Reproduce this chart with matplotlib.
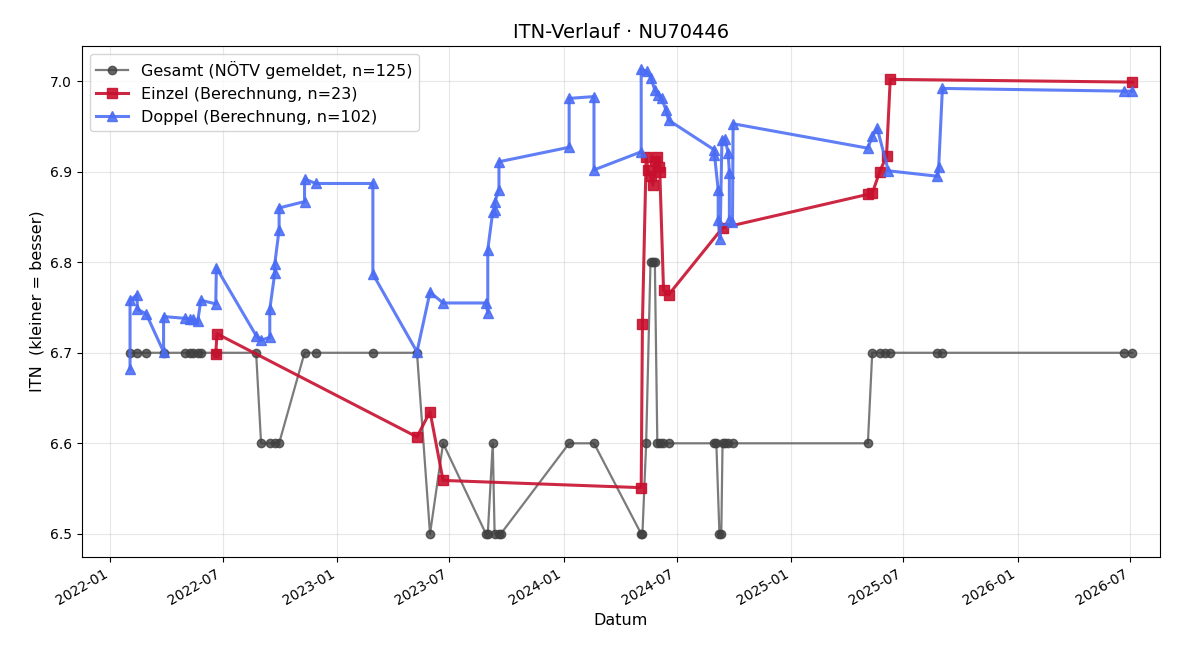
import pandas as pd
import matplotlib
matplotlib.use("Agg")
import matplotlib.pyplot as plt
import matplotlib.dates as mdates

# Gesamt (NÖTV gemeldet)
gesamt_dates = ["2022-02-02", "2022-02-14", "2022-02-28", "2022-03-28", "2022-05-02", "2022-05-09",
                "2022-05-15", "2022-05-22", "2022-05-27", "2022-06-20", "2022-08-24", "2022-09-01",
                "2022-09-15", "2022-09-23", "2022-09-30", "2022-11-10", "2022-11-28", "2023-02-28",
                "2023-05-10", "2023-05-31", "2023-06-21", "2023-08-29", "2023-09-01", "2023-09-09",
                "2023-09-12", "2023-09-19", "2023-09-22", "2024-01-10", "2024-02-19", "2024-05-05",
                "2024-05-07", "2024-05-13", "2024-05-20", "2024-05-24", "2024-05-27", "2024-05-31",
                "2024-06-04", "2024-06-09", "2024-06-18", "2024-08-31", "2024-09-03", "2024-09-08",
                "2024-09-11", "2024-09-13", "2024-09-17", "2024-09-21", "2024-09-30", "2025-05-05",
                "2025-05-12", "2025-05-24", "2025-06-02", "2025-06-10", "2025-08-25", "2025-09-02",
                "2026-06-21", "2026-07-05"]
gesamt_itn = [6.7, 6.7, 6.7, 6.7, 6.7, 6.7, 6.7, 6.7, 6.7, 6.7, 6.7, 6.6,
              6.6, 6.6, 6.6, 6.7, 6.7, 6.7, 6.7, 6.5, 6.6, 6.5, 6.5, 6.6,
              6.5, 6.5, 6.5, 6.6, 6.6, 6.5, 6.5, 6.6, 6.8, 6.8, 6.8, 6.6,
              6.6, 6.6, 6.6, 6.6, 6.6, 6.5, 6.5, 6.6, 6.6, 6.6, 6.6, 6.6,
              6.7, 6.7, 6.7, 6.7, 6.7, 6.7, 6.7, 6.7]

# Einzel (Berechnung)
einzel_dates = ["2022-06-20", "2022-06-22", "2023-05-10", "2023-05-31", "2023-06-21", "2024-05-05",
                "2024-05-07", "2024-05-13", "2024-05-16", "2024-05-20", "2024-05-24", "2024-05-27",
                "2024-05-30", "2024-06-02", "2024-06-04", "2024-06-10", "2024-06-18", "2024-09-13",
                "2025-05-05", "2025-05-12", "2025-05-24", "2025-06-04", "2025-06-10", "2026-07-05"]
einzel_itn = [6.699, 6.721, 6.607, 6.635, 6.559, 6.551,
              6.732, 6.916, 6.902, 6.895, 6.885, 6.912,
              6.916, 6.905, 6.900, 6.769, 6.764, 6.838,
              6.875, 6.876, 6.900, 6.917, 7.002, 6.999]

# Doppel (Berechnung)
doppel_dates = ["2022-02-02", "2022-02-02", "2022-02-13", "2022-02-14", "2022-02-28", "2022-03-28",
                "2022-03-28", "2022-05-02", "2022-05-09", "2022-05-15", "2022-05-22", "2022-05-27",
                "2022-06-20", "2022-06-21", "2022-08-24", "2022-09-01", "2022-09-15", "2022-09-15",
                "2022-09-23", "2022-09-23", "2022-09-30", "2022-09-30", "2022-11-10", "2022-11-10",
                "2022-11-28", "2023-02-28", "2023-02-28", "2023-05-10", "2023-05-31", "2023-06-21",
                "2023-08-29", "2023-09-01", "2023-09-01", "2023-09-09", "2023-09-12", "2023-09-12",
                "2023-09-19", "2023-09-19", "2024-01-10", "2024-01-10", "2024-02-19", "2024-02-19",
                "2024-05-05", "2024-05-05", "2024-05-14", "2024-05-21", "2024-05-27", "2024-06-01",
                "2024-06-07", "2024-06-14", "2024-06-18", "2024-08-31", "2024-08-31", "2024-09-06",
                "2024-09-06", "2024-09-09", "2024-09-12", "2024-09-17", "2024-09-22", "2024-09-24",
                "2024-09-24", "2024-09-29", "2024-09-30", "2025-05-05", "2025-05-12", "2025-05-20",
                "2025-06-07", "2025-08-25", "2025-08-27", "2025-09-02", "2026-06-21", "2026-07-05"]
doppel_itn = [6.682, 6.758, 6.764, 6.748, 6.743, 6.701,
              6.740, 6.738, 6.737, 6.737, 6.735, 6.758,
              6.754, 6.794, 6.719, 6.714, 6.717, 6.748,
              6.788, 6.798, 6.836, 6.860, 6.867, 6.892,
              6.887, 6.887, 6.787, 6.701, 6.767, 6.755,
              6.755, 6.744, 6.814, 6.856, 6.858, 6.866,
              6.880, 6.911, 6.927, 6.981, 6.983, 6.902,
              6.922, 7.013, 7.011, 7.003, 6.990, 6.985,
              6.981, 6.968, 6.957, 6.924, 6.919, 6.880,
              6.847, 6.826, 6.935, 6.936, 6.921, 6.899,
              6.847, 6.844, 6.953, 6.926, 6.939, 6.948,
              6.901, 6.895, 6.905, 6.992, 6.989, 6.989]

fig, ax = plt.subplots(figsize=(12, 6.6), dpi=100)

ax.plot(pd.to_datetime(gesamt_dates), gesamt_itn, color="#5a5a5a", alpha=0.8, lw=1.6,
        marker="o", ms=6, mfc="#404040", mec="#404040",
        label="Gesamt (NÖTV gemeldet, n=125)")
ax.plot(pd.to_datetime(einzel_dates), einzel_itn, color="#c8102e", alpha=0.9, lw=2.2,
        marker="s", ms=7, label="Einzel (Berechnung, n=23)")
ax.plot(pd.to_datetime(doppel_dates), doppel_itn, color="#4a6cf4", alpha=0.88, lw=2.2,
        marker="^", ms=7, label="Doppel (Berechnung, n=102)")

ax.set_xlim(pd.Timestamp("2021-11-16"), pd.Timestamp("2026-08-19"))
ax.set_title("ITN-Verlauf · NU70446", fontsize=14)
ax.set_xlabel("Datum", fontsize=11.5)
ax.set_ylabel("ITN  (kleiner = besser)", fontsize=11.5)
ax.grid(True, alpha=0.3)
ax.legend(loc="upper left", fontsize=11.5)
ax.xaxis.set_major_locator(mdates.MonthLocator(bymonth=[1, 7]))
ax.xaxis.set_major_formatter(mdates.DateFormatter("%Y-%m"))
fig.autofmt_xdate()
fig.subplots_adjust(left=0.068, right=0.967, top=0.930, bottom=0.156)
fig.savefig("out.png")
